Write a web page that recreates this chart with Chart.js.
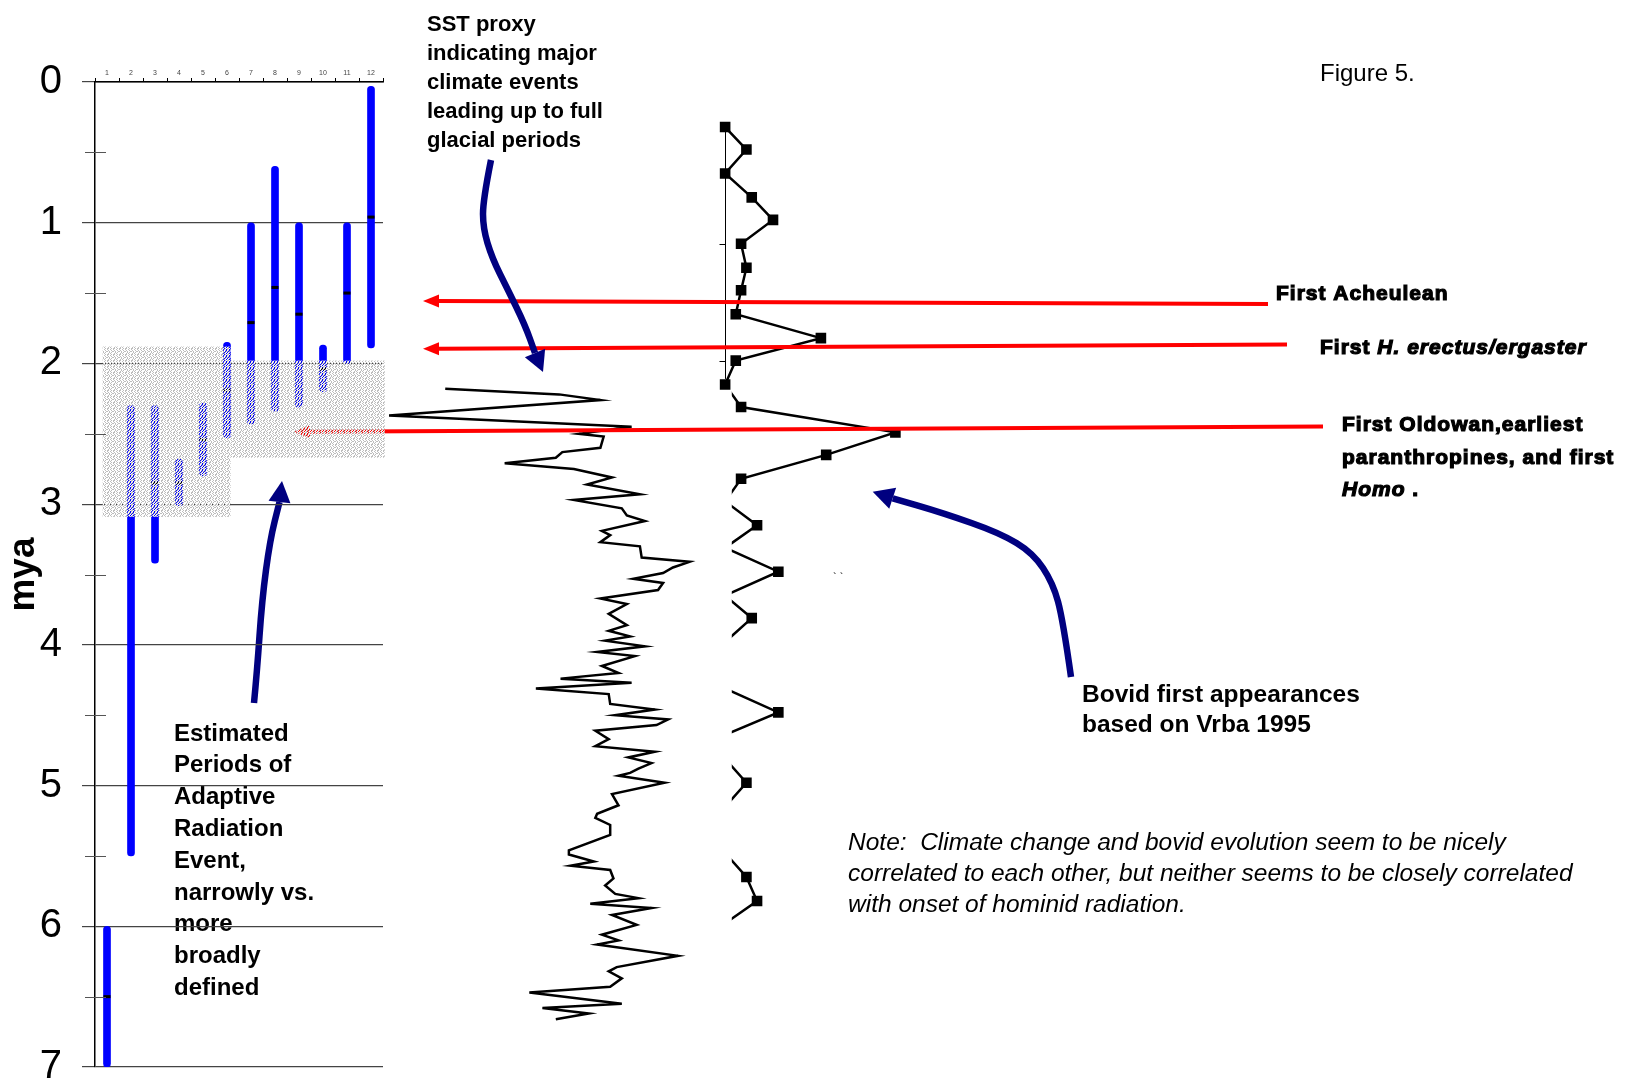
<!DOCTYPE html>
<html>
<head>
<meta charset="utf-8">
<title>Figure 5</title>
<script src="https://cdn.jsdelivr.net/npm/chart.js@4.4.0/dist/chart.umd.min.js"></script>
<style>
  html, body { margin: 0; padding: 0; background: #fff; }
  #stage { position: relative; width: 1627px; height: 1086px; overflow: hidden; }
  #overlayBox { position: absolute; left: 0; top: 0; width: 1627px; height: 1086px; }
  #panelBox { position: absolute; left: 0; top: 0; width: 400px; height: 1086px; }
</style>
</head>
<body>
<div id="stage">
  <div id="overlayBox"><canvas id="overlayChart"></canvas></div>
  <div id="panelBox"><canvas id="panelChart"></canvas></div>
</div>
<script>
const FONT = '"Liberation Sans", Arial, Helvetica, sans-serif';

// ---- hominid lineages (left panel) ----
const lineages    = ['1', '2', '3', '4', '5', '6', '7', '8', '9', '10', '11', '12'];
const rangeTop    = [6.0, 2.3, 2.3, 2.68, 2.28, 1.85, 1.0, 0.6, 1.0, 1.87, 1.0, 0.03];
const rangeBottom = [7.0, 5.5, 3.42, 3.01, 2.8, 2.53, 2.43, 2.34, 2.31, 2.2, 2.0, 1.89];
const rangeMid    = [6.5, null, 2.85, 2.85, 2.54, 2.19, 1.71, 1.46, 1.65, 2.04, 1.5, 0.96];
const myaHalfTicks = [0.5, 1.5, 2.5, 3.5, 4.5, 5.5, 6.5];

// shaded adaptive radiation periods (broad / narrow)
const spanFromCol = [0.82, 6.15];
const spanToCol   = [6.15, 12.57];
const spanTopMya  = [1.88, 1.98];
const spanBotMya  = [3.09, 2.67];

// ---- SST proxy ----
const sstAge = [2.18, 2.22, 2.26, 2.37, 2.45, 2.50, 2.52, 2.60, 2.63, 2.67, 2.71, 2.75, 2.81, 2.86, 2.93,
  2.97, 3.03, 3.08, 3.12, 3.19, 3.22, 3.27, 3.30, 3.38, 3.41, 3.45, 3.49, 3.53, 3.56, 3.61, 3.67, 3.71,
  3.78, 3.86, 3.90, 3.94, 3.97, 4.01, 4.05, 4.08, 4.15, 4.20, 4.24, 4.27, 4.31, 4.35, 4.42, 4.46, 4.50,
  4.53, 4.57, 4.61, 4.67, 4.72, 4.76, 4.80, 4.84, 4.88, 4.91, 4.93, 4.98, 5.06, 5.14, 5.20, 5.23, 5.28,
  5.35, 5.46, 5.49, 5.54, 5.57, 5.60, 5.66, 5.71, 5.77, 5.80, 5.84, 5.87, 5.92, 5.99, 6.06, 6.10, 6.13,
  6.21, 6.29, 6.32, 6.37, 6.43, 6.47, 6.55, 6.58, 6.62, 6.66];
const sstValue = [20.6, 58.9, 72.8, 1.7, 83.3, 65.6, 73.9, 72.8, 60.0, 57.8, 40.6, 63.9, 76.7, 68.3, 86.1,
  63.9, 80.0, 81.7, 87.8, 73.3, 76.1, 72.8, 86.1, 86.7, 102.8, 97.2, 93.9, 83.9, 93.9, 92.2, 72.8, 81.7,
  75.6, 81.7, 75.6, 82.8, 74.4, 87.8, 71.7, 84.4, 73.3, 78.9, 59.4, 83.3, 51.1, 75.6, 76.1, 91.1, 77.8,
  95.6, 91.7, 71.1, 75.6, 71.1, 91.1, 82.2, 90.0, 85.6, 82.8, 78.9, 94.4, 76.7, 78.9, 71.7, 71.1, 76.1,
  76.1, 62.2, 62.2, 70.6, 62.8, 76.1, 77.2, 74.4, 77.8, 85.6, 69.4, 90.0, 76.7, 85.0, 73.3, 78.9, 71.7,
  98.9, 78.3, 75.6, 80.0, 76.1, 48.9, 80.0, 53.3, 68.9, 57.8];

// ---- bovid first appearances (Vrba 1995) ----
const bovidAge = [0.32, 0.48, 0.65, 0.82, 0.98, 1.15, 1.32, 1.48, 1.65, 1.82, 1.98, 2.15, 2.31, 2.49,
  2.65, 2.82, 2.98, 3.15, 3.31, 3.48, 3.65, 3.81, 3.98, 4.14, 4.31, 4.48, 4.64, 4.81, 4.98, 5.15, 5.31,
  5.48, 5.65, 5.82, 5.98];
const bovidCount = [0, 4, 0, 5, 9, 3, 4, 3, 2, 18, 2, 0, 3, 32, 19, 3, 0, 6, 0, 10, 0, 5, 0, 0, 0, 10,
  0, 0, 4, 0, 0, 0, 4, 6, 0];
const bovidInsetEnd = 11;          // last point of the inset part
const bovidInsetAxis = [0.305, 2.11];
const bovidInsetTicks = [1.15, 1.98];
const bovidHiddenBelow = 1.25;     // lower part is cut off near zero

// ---- events ----
const eventRightMya = [1.578, 1.866, 2.448];
const eventLeftMya  = [1.556, 1.895, 2.485];
const eventRightX = [1268, 1287, 1323];
const eventLeftX  = [423, 423, 294];

function stipplePattern(ctx) {
  // g = grey dot, w = white dot, . = see-through
  const rows = ['gw.gwg', 'w.gw.g', 'g.wg.w', '.gw.gg', 'wg.gw.', 'g.gw.w'];
  const c = document.createElement('canvas');
  c.width = 6; c.height = 6;
  const g = c.getContext('2d');
  rows.forEach((row, j) => [...row].forEach((ch, i) => {
    if (ch === '.') return;
    g.fillStyle = ch === 'g' ? '#bdbdbd' : '#ffffff';
    g.fillRect(i, j, 1, 1);
  }));
  return ctx.createPattern(c, 'repeat');
}

const panelMarks = {
  id: 'panelMarks',
  afterDatasetsDraw(chart) {
    const { ctx, scales: { x, y } } = chart;
    ctx.save();
    ctx.fillStyle = stipplePattern(ctx);
    spanFromCol.forEach((c, i) => {
      const l = x.getPixelForValue(c - 1), r = x.getPixelForValue(spanToCol[i] - 1);
      const t = y.getPixelForValue(spanTopMya[i]), b = y.getPixelForValue(spanBotMya[i]);
      ctx.fillRect(l, t, r - l, b - t);
    });
    ctx.restore();
  },
  afterDraw(chart) {
    const { ctx, scales: { y }, chartArea } = chart;
    ctx.save();
    ctx.strokeStyle = '#555';
    ctx.lineWidth = 1;
    ctx.beginPath();
    myaHalfTicks.forEach(v => {
      const py = Math.round(y.getPixelForValue(v)) + 0.5;
      ctx.moveTo(chartArea.left - 10, py);
      ctx.lineTo(chartArea.left + 11, py);
    });
    ctx.stroke();
    ctx.restore();
  }
};

const panel = new Chart(document.getElementById('panelChart'), {
  type: 'bar',
  data: {
    labels: lineages,
    datasets: [
      {
        type: 'line', label: 'midpoint', data: rangeMid, showLine: false,
        pointStyle: 'line', pointRadius: 3.5, pointBorderWidth: 3,
        borderColor: '#000', backgroundColor: '#000', order: 0
      },
      {
        label: 'range', data: rangeTop.map((t, i) => [t, rangeBottom[i]]),
        backgroundColor: '#0000ff', borderWidth: 0, barThickness: 7,
        borderRadius: 4, borderSkipped: false, order: 1
      }
    ]
  },
  options: {
    responsive: true, maintainAspectRatio: false, animation: false,
    layout: { padding: { left: 0, top: 0, right: 17, bottom: 19 } },
    plugins: { legend: { display: false }, tooltip: { enabled: false } },
    scales: {
      x: {
        type: 'category', position: 'top', offset: true,
        grid: { offset: true, drawOnChartArea: false, tickLength: 4, color: '#000' },
        border: { color: '#000', width: 1.5 },
        ticks: { font: { family: FONT, size: 7 }, color: '#444', padding: 1, maxRotation: 0, autoSkip: false },
        afterFit: s => { s.height = 82; s.paddingLeft = 0; s.paddingRight = 0; }
      },
      y: {
        type: 'linear', reverse: true, min: 0, max: 7,
        ticks: { stepSize: 1, font: { family: FONT, size: 40, lineHeight: 1 }, color: '#000', padding: 20 },
        grid: { color: '#444', tickLength: 13, lineWidth: 1.2 },
        border: { color: '#000', width: 1.5 },
        title: { display: true, text: 'mya', font: { family: FONT, size: 37, weight: 'bold' }, color: '#000', padding: 2 },
        afterFit: s => { s.width = 95; s.paddingTop = 0; s.paddingBottom = 0; }
      }
    }
  },
  plugins: [panelMarks]
});

function smoothArrow(ctx, shaft, tip, color, width, headHalf) {
  ctx.save();
  ctx.strokeStyle = color;
  ctx.fillStyle = color;
  ctx.lineWidth = width;
  ctx.lineJoin = 'round';
  ctx.beginPath();
  ctx.moveTo(shaft[0][0], shaft[0][1]);
  for (let i = 1; i < shaft.length - 1; i++) {
    const mx = (shaft[i][0] + shaft[i + 1][0]) / 2, my = (shaft[i][1] + shaft[i + 1][1]) / 2;
    ctx.quadraticCurveTo(shaft[i][0], shaft[i][1], mx, my);
  }
  const base = shaft[shaft.length - 1];
  ctx.lineTo(base[0], base[1]);
  ctx.stroke();
  const ang = Math.atan2(tip[1] - base[1], tip[0] - base[0]);
  const px = -Math.sin(ang) * headHalf, py = Math.cos(ang) * headHalf;
  ctx.beginPath();
  ctx.moveTo(tip[0], tip[1]);
  ctx.lineTo(base[0] + px, base[1] + py);
  ctx.lineTo(base[0] - px, base[1] - py);
  ctx.closePath();
  ctx.fill();
  ctx.restore();
}

function drawRuns(ctx, x, y, runs, font, heavy) {
  let cx = x;
  runs.forEach(r => {
    ctx.font = (r.italic ? 'italic ' : '') + font;
    ctx.fillText(r.text, cx, y);
    if (heavy) ctx.strokeText(r.text, cx, y);
    cx += ctx.measureText(r.text).width;
  });
}

const blueArrows = [
  { shaft: [[491, 160], [483, 200], [483, 228], [492, 258], [508, 290], [525, 325], [535, 353]], tip: [543, 372] },
  { shaft: [[254, 703], [257, 672], [262, 600], [270, 540], [279.5, 502]], tip: [282, 481] },
  { shaft: [[1071, 677], [1063, 620], [1053, 583], [1033, 553], [1000, 533], [943, 513], [892.7, 498.3]], tip: [872.7, 491.7] }
];

const figureNotes = {
  id: 'figureNotes',
  beforeDatasetsDraw(chart) {
    const { ctx, scales: { y, xb } } = chart;
    const ax = Math.round(xb.getPixelForValue(0)) + 0.5;
    ctx.save();
    ctx.strokeStyle = '#000';
    ctx.lineWidth = 1;
    ctx.beginPath();
    ctx.moveTo(ax, y.getPixelForValue(bovidInsetAxis[0]));
    ctx.lineTo(ax, y.getPixelForValue(bovidInsetAxis[1]));
    bovidInsetTicks.forEach(t => {
      const py = Math.round(y.getPixelForValue(t)) + 0.5;
      ctx.moveTo(ax - 6, py);
      ctx.lineTo(ax, py);
    });
    ctx.stroke();
    ctx.restore();
  },
  beforeDatasetDraw(chart, args) {
    const ds = chart.data.datasets[args.index];
    if (ds.hideBelow === undefined) return;
    const ctx = chart.ctx;
    ctx.save();
    ctx.beginPath();
    ctx.rect(chart.scales.xb.getPixelForValue(ds.hideBelow), 0, chart.width, chart.height);
    ctx.clip();
  },
  afterDatasetDraw(chart, args) {
    if (chart.data.datasets[args.index].hideBelow !== undefined) chart.ctx.restore();
  },
  afterDatasetsDraw(chart) {
    const { ctx, scales: { y } } = chart;
    ctx.save();
    // red event arrows
    ctx.strokeStyle = '#ff0000';
    ctx.fillStyle = '#ff0000';
    ctx.lineWidth = 4;
    eventRightMya.forEach((m, i) => {
      const yr = y.getPixelForValue(m), yl = y.getPixelForValue(eventLeftMya[i]);
      const xl = eventLeftX[i];
      ctx.beginPath();
      ctx.moveTo(eventRightX[i], yr);
      ctx.lineTo(xl + 14, yl);
      ctx.stroke();
      ctx.beginPath();
      ctx.moveTo(xl, yl);
      ctx.lineTo(xl + 16, yl - 6.5);
      ctx.lineTo(xl + 16, yl + 6.5);
      ctx.closePath();
      ctx.fill();
    });
    ctx.restore();

    blueArrows.forEach(a => smoothArrow(ctx, a.shaft, a.tip, '#000080', 6.5, 11));

    ctx.save();
    ctx.textBaseline = 'middle';
    ctx.textAlign = 'left';
    ctx.fillStyle = '#000';

    const sstLines = ['SST proxy', 'indicating major', 'climate events', 'leading up to full', 'glacial periods'];
    ctx.font = 'bold 22px ' + FONT;
    sstLines.forEach((t, i) => ctx.fillText(t, 427, 25 + i * 29));

    const radLines = ['Estimated', 'Periods of', 'Adaptive', 'Radiation', 'Event,', 'narrowly vs.', 'more', 'broadly', 'defined'];
    ctx.font = 'bold 24px ' + FONT;
    radLines.forEach((t, i) => ctx.fillText(t, 174, 734 + i * 31.8));

    ctx.font = 'bold 24.5px ' + FONT;
    ['Bovid first appearances', 'based on Vrba 1995'].forEach((t, i) => ctx.fillText(t, 1082, 695 + i * 30));

    ctx.font = 'italic 24.5px ' + FONT;
    ['Note:  Climate change and bovid evolution seem to be nicely',
     'correlated to each other, but neither seems to be closely correlated',
     'with onset of hominid radiation.'].forEach((t, i) => ctx.fillText(t, 848, 843 + i * 31));

    ctx.font = '24px ' + FONT;
    ctx.fillText('Figure 5.', 1320, 74);
    ctx.font = '11px ' + FONT;
    ctx.fillText('` `', 833, 578);

    // event labels, heavy type
    ctx.strokeStyle = '#000';
    ctx.lineWidth = 1.2;
    ctx.letterSpacing = '1px';
    const heavy = 'bold 21px ' + FONT;
    drawRuns(ctx, 1276, 294, [{ text: 'First Acheulean' }], heavy, true);
    drawRuns(ctx, 1320, 348, [{ text: 'First ' }, { text: 'H. erectus/ergaster', italic: true }], heavy, true);
    drawRuns(ctx, 1342, 425, [{ text: 'First Oldowan,earliest' }], heavy, true);
    drawRuns(ctx, 1342, 458, [{ text: 'paranthropines, and first' }], heavy, true);
    drawRuns(ctx, 1342, 490, [{ text: 'Homo', italic: true }, { text: ' .' }], heavy, true);
    ctx.restore();
  }
};

const overlay = new Chart(document.getElementById('overlayChart'), {
  type: 'scatter',
  data: {
    datasets: [
      {
        label: 'SST proxy', xAxisID: 'xs', yAxisID: 'y',
        data: sstAge.map((a, i) => ({ x: sstValue[i], y: a })),
        showLine: true, borderColor: '#000', borderWidth: 2.5, pointRadius: 0, tension: 0
      },
      {
        label: 'Bovid (inset)', xAxisID: 'xb', yAxisID: 'y',
        data: bovidAge.slice(0, bovidInsetEnd + 1).map((a, i) => ({ x: bovidCount[i], y: a })),
        showLine: true, borderColor: '#000', borderWidth: 2.5, backgroundColor: '#000',
        pointStyle: 'rect', pointRadius: 7.5, pointBorderWidth: 0
      },
      {
        label: 'Bovid', xAxisID: 'xb', yAxisID: 'y', hideBelow: bovidHiddenBelow,
        data: bovidAge.slice(bovidInsetEnd).map((a, i) => ({ x: bovidCount[bovidInsetEnd + i], y: a })),
        showLine: true, borderColor: '#000', borderWidth: 2.5, backgroundColor: '#000',
        pointStyle: 'rect', pointRadius: 7.5, pointBorderWidth: 0
      }
    ]
  },
  options: {
    responsive: true, maintainAspectRatio: false, animation: false,
    layout: { padding: { left: 0, right: 0, top: 82, bottom: 19 } },
    plugins: { legend: { display: false }, tooltip: { enabled: false } },
    scales: {
      y: { type: 'linear', reverse: true, min: 0, max: 7, display: false },
      xs: { type: 'linear', min: -126.67, max: 415.67, display: false },
      xb: { type: 'linear', min: -134.88, max: 168.1, display: false }
    }
  },
  plugins: [figureNotes]
});
</script>
</body>
</html>
